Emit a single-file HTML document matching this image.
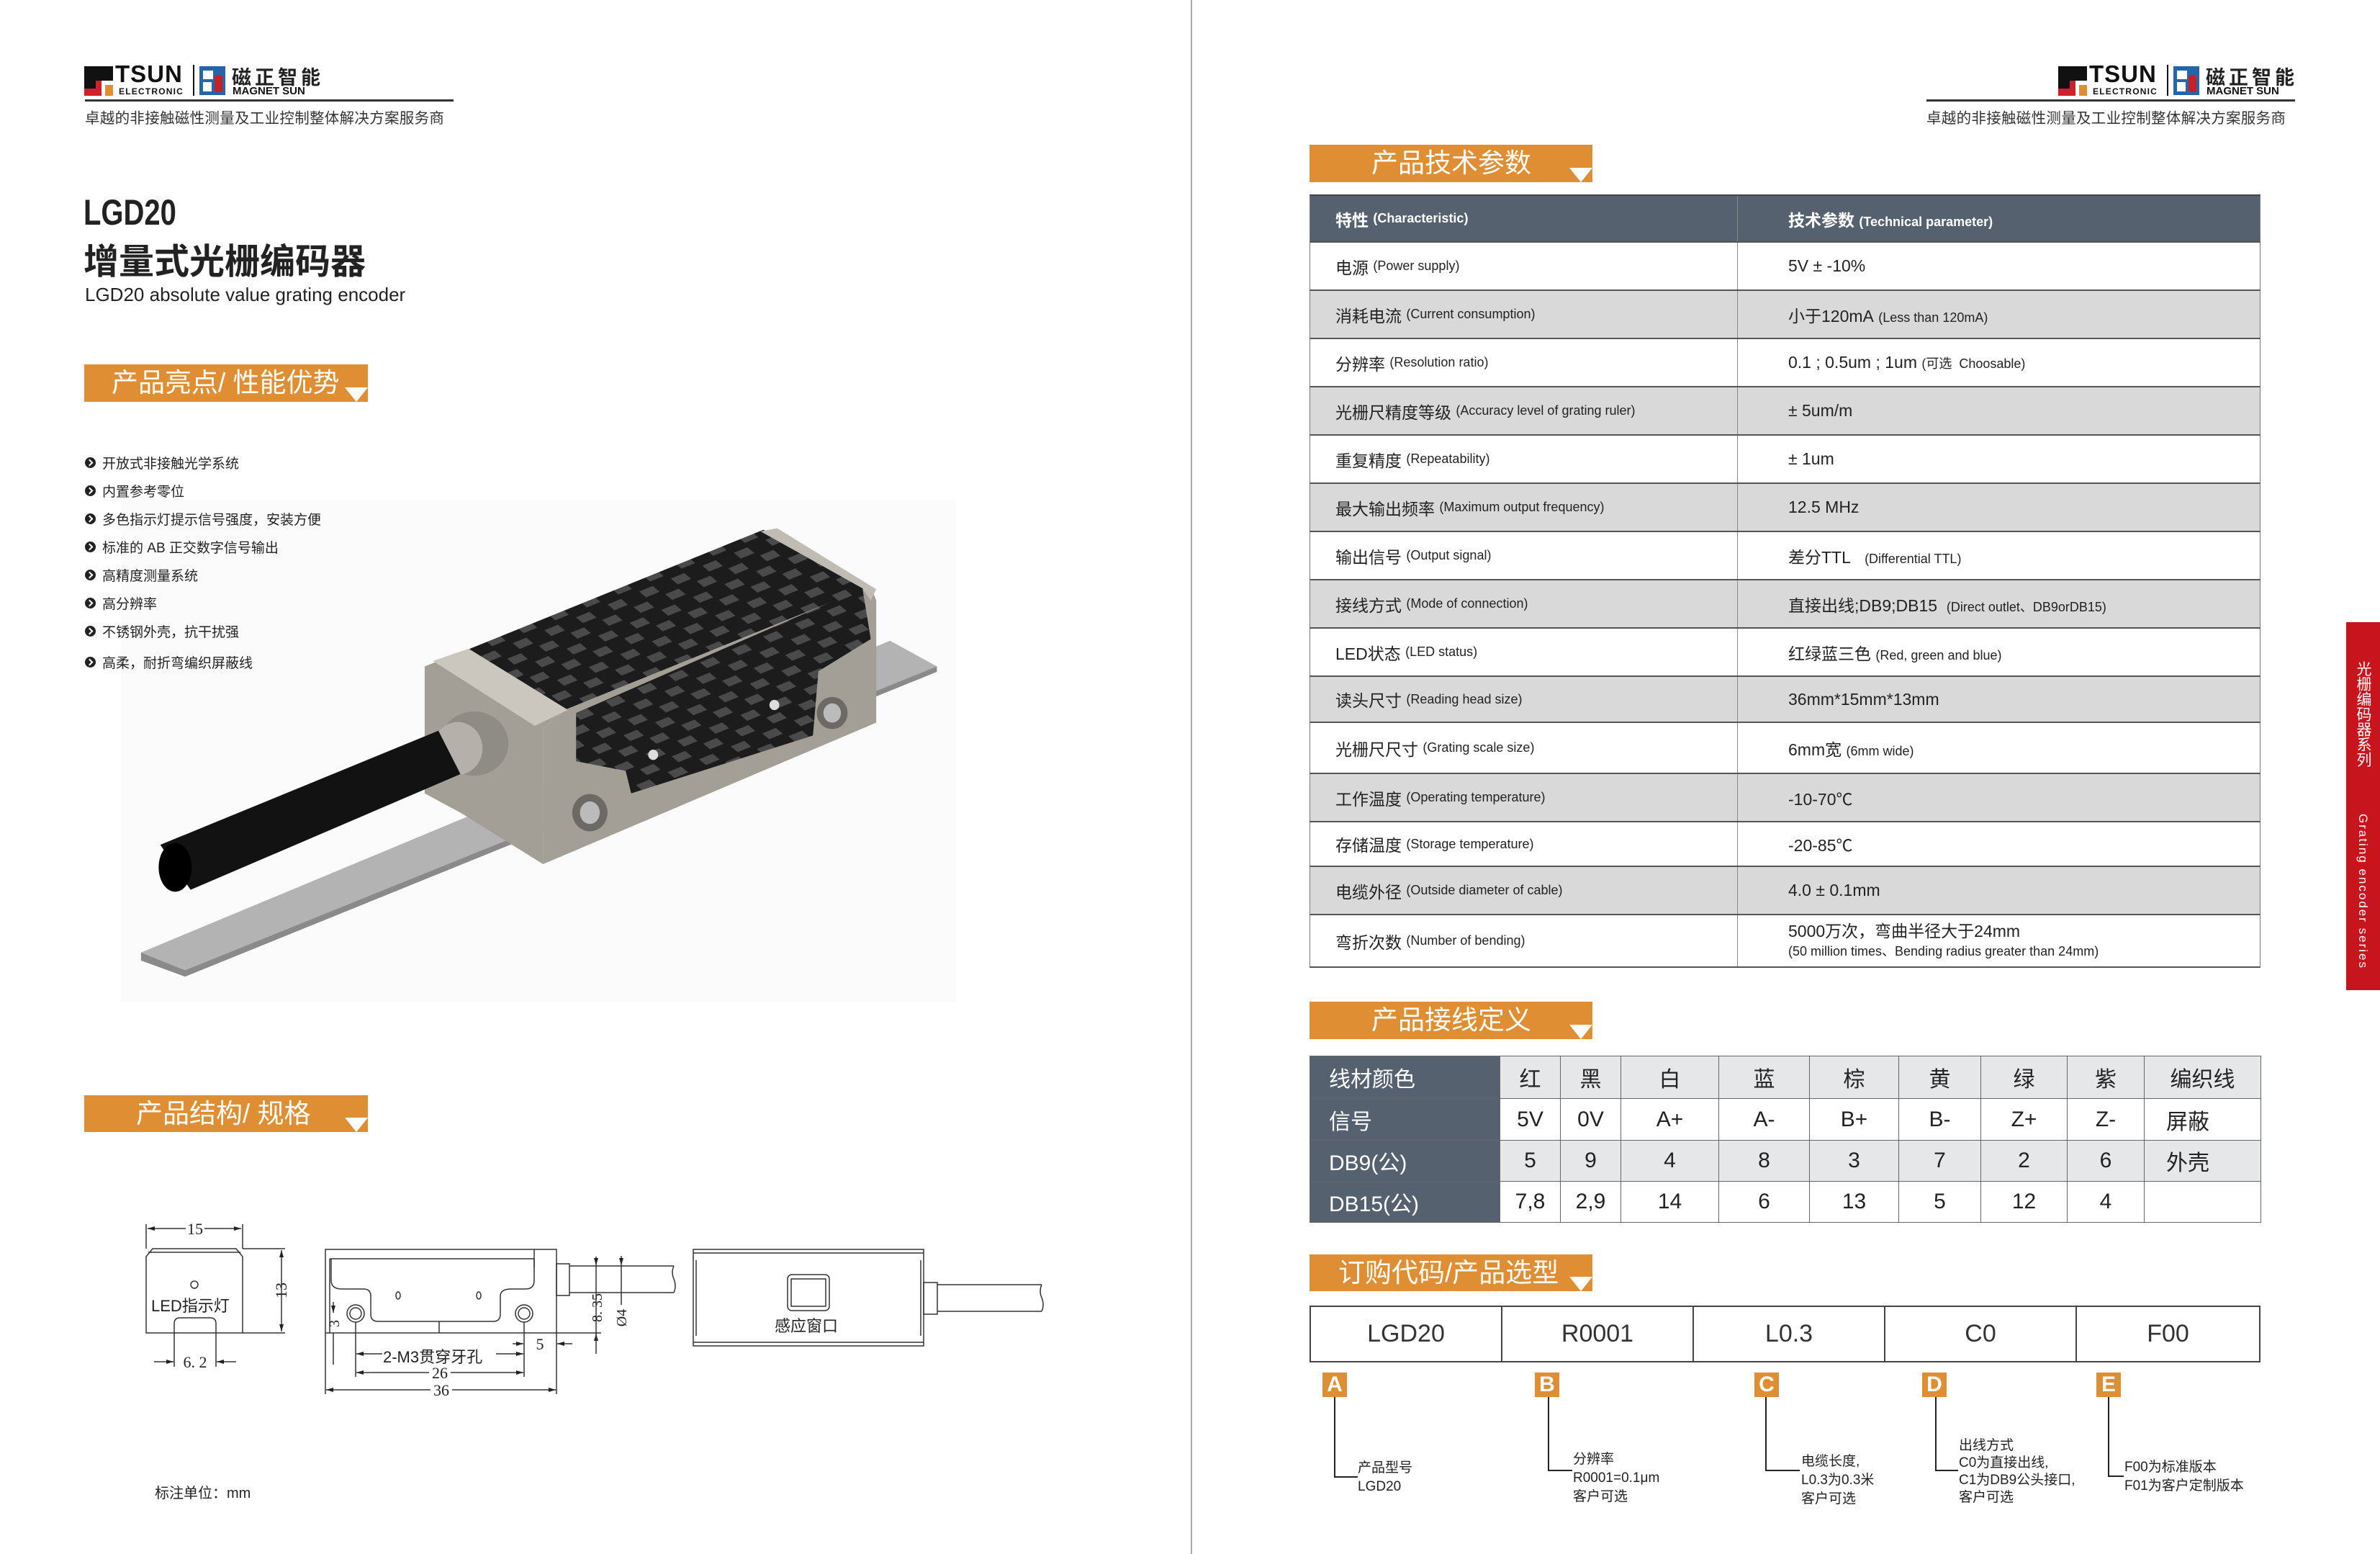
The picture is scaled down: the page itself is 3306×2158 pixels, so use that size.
<!DOCTYPE html>
<html><head><meta charset="utf-8">
<style>
*{margin:0;padding:0}
body{width:3306px;height:2158px;position:relative;background:#fff;overflow:hidden;font-family:"Liberation Sans","Noto Sans CJK SC",sans-serif;color:#222}
.abs{position:absolute;white-space:nowrap}
.bar{position:absolute;background:#e08e33;color:#fff;font-size:37px;height:52px;line-height:52px}
.bar .tri{position:absolute;right:0;bottom:0;width:0;height:0;border-left:16px solid transparent;border-right:16px solid transparent;border-top:20px solid #fff}
.bl{position:absolute;left:118px;font-size:19px;color:#222;display:flex;align-items:center}
.bl i{display:inline-block;width:15px;height:15px;border-radius:50%;background:#222;margin-right:9px;position:relative}
.bl i:after{content:"";position:absolute;left:3px;top:4px;width:5px;height:5px;border-right:2px solid #fff;border-bottom:2px solid #fff;transform:rotate(-45deg)}
.r{position:absolute;left:1819px;width:1321px;display:flex;align-items:center;border-bottom:2px solid #555;border-left:1px solid #777;border-right:1px solid #777;box-sizing:border-box;font-size:23px;color:#222}
.r .a{width:594px;padding-left:35px;box-sizing:border-box;border-right:1px solid #888;height:100%;display:flex;align-items:center}
.r .b{padding-left:70px}
.e{font-size:18px}
.g{background:#d9d9d9}
.hd{background:#566170;color:#fff;font-weight:bold}
table{border-collapse:collapse;position:absolute;table-layout:fixed}
.wt td{border:1px solid #666;text-align:center;font-size:30px;color:#222;padding:0}
.wt td.l{background:#566170;color:#fff;text-align:left;padding-left:26px}
.wt tr.gr td{background:#e6e7e9}
.wt tr.gr td.l{background:#566170}
.ct td{border:2px solid #444;text-align:center;font-size:34px;color:#333;height:75px}
.bd{position:absolute;width:34px;height:34px;background:#e08e33;color:#fff;font-weight:bold;font-size:30px;text-align:center;line-height:34px}
.ct2{position:absolute;font-size:19px;line-height:26px;color:#222}
</style></head><body>

<!-- PRODUCT IMAGE (drawn first so text stays on top) -->
<svg class="abs" style="left:0;top:0" width="3306" height="2158">
<defs>
<pattern id="cf" patternUnits="userSpaceOnUse" width="70" height="70" patternTransform="rotate(-35)">
<rect width="70" height="70" fill="#1c1c1c"/>
<rect x="4" y="6" width="30" height="22" fill="#4a4a4a"/>
<rect x="38" y="40" width="30" height="22" fill="#4a4a4a"/>
</pattern>
</defs>
<rect x="168" y="695" width="1160" height="696" fill="#fbfbfb"/>
<g transform="translate(150,700) scale(0.765,0.4464)">
<polygon points="60,1395 1420,425 1505,505 140,1450" fill="#b3b3b3"/>
<polygon points="140,1450 1505,505 1505,522 140,1470 60,1420 60,1395" fill="#8a8a8a"/>
<polygon points="650,455 1190,80 1385,255 830,640" fill="url(#cf)"/>
<polygon points="830,640 1385,255 1395,300 1395,680 790,1120 790,700" fill="#a39f96"/>
<polygon points="850,650 1370,262 1385,420 1290,520 1280,720 950,900 940,830 850,800" fill="url(#cf)"/>
<polygon points="1185,85 1215,75 1395,265 1385,300 1370,262" fill="#c0bcb4"/>
<polygon points="575,505 650,455 830,640 790,700 790,1120 640,960 575,900" fill="#a39f96"/>
<polygon points="590,488 655,450 835,640 775,690" fill="#cbc7bf"/>
<ellipse cx="875" cy="960" rx="32" ry="58" fill="#6d6a65"/>
<ellipse cx="875" cy="960" rx="18" ry="35" fill="#bbb"/>
<ellipse cx="1315" cy="650" rx="28" ry="50" fill="#6d6a65"/>
<ellipse cx="1315" cy="650" rx="16" ry="30" fill="#bbb"/>
<ellipse cx="990" cy="780" rx="9" ry="16" fill="#ddd"/>
<ellipse cx="1210" cy="625" rx="9" ry="16" fill="#ddd"/>
<ellipse cx="665" cy="745" rx="62" ry="100" fill="#8f8b85"/>
<ellipse cx="635" cy="760" rx="45" ry="82" fill="#b5b1aa"/>
<polygon points="600,705 640,840 150,1200 95,1060" fill="#121212"/>
<ellipse cx="122" cy="1130" rx="30" ry="76" fill="#000"/>
</g>
</svg>

<!-- page divider -->
<div class="abs" style="left:1654px;top:0;width:2px;height:2158px;background:#aaa"></div>

<!-- LEFT LOGO -->
<div class="abs" style="left:117px;top:92px;width:40px;height:20px;background:#111"></div>
<div class="abs" style="left:117px;top:92px;width:20px;height:31px;background:#111"></div>
<div class="abs" style="left:117px;top:123px;width:16px;height:10px;background:#d0202a"></div>
<div class="abs" style="left:133px;top:112px;width:8px;height:21px;background:#d0202a"></div>
<div class="abs" style="left:146px;top:118px;width:11px;height:15px;background:#e08e33"></div>
<div class="abs" style="left:160px;top:84px;font-size:33px;font-weight:bold;letter-spacing:1px;color:#111">TSUN</div>
<div class="abs" style="left:165px;top:120px;font-size:12px;font-weight:bold;letter-spacing:1.2px;color:#111">ELECTRONIC</div>
<div class="abs" style="left:268px;top:90px;width:2px;height:43px;background:#111"></div>
<div class="abs" style="left:277px;top:92px;width:36px;height:40px;background:#2566a8"></div>
<div class="abs" style="left:282px;top:98px;width:14px;height:12px;background:#fff"></div>
<div class="abs" style="left:298px;top:104px;width:11px;height:24px;background:#c8202a;border-radius:3px"></div>
<div class="abs" style="left:282px;top:114px;width:12px;height:13px;background:#fff"></div>
<div class="abs" style="left:322px;top:86px;font-size:27px;font-weight:bold;letter-spacing:5px;color:#222">磁正智能</div>
<div class="abs" style="left:323px;top:118px;font-size:15px;font-weight:bold;color:#111">MAGNET SUN</div>
<div class="abs" style="left:118px;top:138px;width:512px;height:3px;background:#333"></div>
<div class="abs" style="left:118px;top:147px;font-size:20.5px;letter-spacing:0.3px;color:#333">卓越的非接触磁性测量及工业控制整体解决方案服务商</div>

<!-- RIGHT LOGO -->
<div class="abs" style="left:2859px;top:92px;width:40px;height:20px;background:#111"></div>
<div class="abs" style="left:2859px;top:92px;width:20px;height:31px;background:#111"></div>
<div class="abs" style="left:2859px;top:123px;width:16px;height:10px;background:#d0202a"></div>
<div class="abs" style="left:2875px;top:112px;width:8px;height:21px;background:#d0202a"></div>
<div class="abs" style="left:2888px;top:118px;width:11px;height:15px;background:#e08e33"></div>
<div class="abs" style="left:2902px;top:84px;font-size:33px;font-weight:bold;letter-spacing:1px;color:#111">TSUN</div>
<div class="abs" style="left:2907px;top:120px;font-size:12px;font-weight:bold;letter-spacing:1.2px;color:#111">ELECTRONIC</div>
<div class="abs" style="left:3010px;top:90px;width:2px;height:43px;background:#111"></div>
<div class="abs" style="left:3019px;top:92px;width:36px;height:40px;background:#2566a8"></div>
<div class="abs" style="left:3024px;top:98px;width:14px;height:12px;background:#fff"></div>
<div class="abs" style="left:3040px;top:104px;width:11px;height:24px;background:#c8202a;border-radius:3px"></div>
<div class="abs" style="left:3024px;top:114px;width:12px;height:13px;background:#fff"></div>
<div class="abs" style="left:3064px;top:86px;font-size:27px;font-weight:bold;letter-spacing:5px;color:#222">磁正智能</div>
<div class="abs" style="left:3065px;top:118px;font-size:15px;font-weight:bold;color:#111">MAGNET SUN</div>
<div class="abs" style="left:2676px;top:138px;width:512px;height:3px;background:#333"></div>
<div class="abs" style="left:2676px;top:147px;font-size:20.5px;letter-spacing:0.3px;color:#333">卓越的非接触磁性测量及工业控制整体解决方案服务商</div>

<!-- TITLE -->
<div class="abs" style="left:116px;top:266px;font-size:50px;font-weight:bold;color:#222;transform:scaleX(0.8);transform-origin:left">LGD20</div>
<div class="abs" style="left:116px;top:324px;font-size:49px;font-weight:bold;color:#222">增量式光栅编码器</div>
<div class="abs" style="left:118px;top:394px;font-size:26px;color:#222">LGD20 absolute value grating encoder</div>

<div class="bar" style="left:117px;top:506px;width:394px"><span style="margin-left:38px">产品亮点/ 性能优势</span><div class="tri"></div></div>

<div class="bl" style="top:629px"><i></i>开放式非接触光学系统</div>
<div class="bl" style="top:668px"><i></i>内置参考零位</div>
<div class="bl" style="top:707px"><i></i>多色指示灯提示信号强度，安装方便</div>
<div class="bl" style="top:746px"><i></i>标准的 AB 正交数字信号输出</div>
<div class="bl" style="top:785px"><i></i>高精度测量系统</div>
<div class="bl" style="top:824px"><i></i>高分辨率</div>
<div class="bl" style="top:863px"><i></i>不锈钢外壳，抗干扰强</div>
<div class="bl" style="top:906px"><i></i>高柔，耐折弯编织屏蔽线</div>

<div class="bar" style="left:117px;top:1521px;width:394px;height:51px;line-height:51px"><span style="margin-left:72px">产品结构/ 规格</span><div class="tri"></div></div>

<!-- DRAWINGS -->
<svg class="abs" style="left:0;top:0" width="1660" height="2158" font-family="Liberation Serif, serif" font-size="22">
<defs>
<marker id="ar" viewBox="0 0 10 6" refX="10" refY="3" markerWidth="10" markerHeight="6" orient="auto-start-reverse" markerUnits="userSpaceOnUse"><path d="M0,0 L10,3 L0,6 Z" fill="#222"/></marker>
</defs>
<g stroke="#333" stroke-width="1.5" fill="none">
<path d="M203,1851 L203,1745 L212,1734 L328,1734 L337,1745 L337,1851 Z"/>
<line x1="206" y1="1739" x2="334" y2="1739"/>
<path d="M242,1851 L242,1838 Q242,1830 250,1830 L292,1830 Q300,1830 300,1838 L300,1851"/>
<circle cx="270" cy="1784" r="5"/>
<line x1="203" y1="1700" x2="203" y2="1734"/><line x1="337" y1="1700" x2="337" y2="1734"/>
<line x1="205" y1="1706" x2="335" y2="1706" marker-start="url(#ar)" marker-end="url(#ar)"/>
<line x1="337" y1="1734" x2="396" y2="1734"/><line x1="337" y1="1851" x2="396" y2="1851"/>
<line x1="391" y1="1736" x2="391" y2="1849" marker-start="url(#ar)" marker-end="url(#ar)"/>
<line x1="242" y1="1851" x2="242" y2="1898"/><line x1="300" y1="1851" x2="300" y2="1898"/>
<line x1="214" y1="1891" x2="241" y2="1891" marker-end="url(#ar)"/>
<line x1="328" y1="1891" x2="301" y2="1891" marker-end="url(#ar)"/>
<rect x="452" y="1735" width="321" height="116"/>
<line x1="458" y1="1748" x2="742" y2="1748"/>
<line x1="742" y1="1735" x2="742" y2="1760"/>
<line x1="458" y1="1748" x2="458" y2="1851"/>
<path d="M460,1748 L460,1778 Q460,1790 475,1790 L505,1790 Q515,1790 515,1800 L515,1825 Q515,1835 525,1835 L685,1835 Q695,1835 695,1825 L695,1800 Q695,1790 710,1790 L730,1790 Q742,1790 742,1778 L742,1748"/>
<circle cx="494" cy="1824" r="12"/><circle cx="494" cy="1824" r="8"/>
<circle cx="728" cy="1824" r="12"/><circle cx="728" cy="1824" r="8"/>
<ellipse cx="553" cy="1799" rx="3" ry="5"/><ellipse cx="665" cy="1799" rx="3" ry="5"/>
<line x1="610" y1="1835" x2="610" y2="1851"/>
<rect x="773" y="1755" width="18" height="44"/>
<line x1="791" y1="1758" x2="936" y2="1758"/><line x1="791" y1="1795" x2="936" y2="1795"/>
<path d="M936,1758 Q932,1767 936,1776 Q940,1786 936,1795"/>
<line x1="773" y1="1851" x2="835" y2="1851"/>
<line x1="828" y1="1745" x2="828" y2="1757" marker-end="url(#ar)"/>
<line x1="828" y1="1860" x2="828" y2="1852" marker-end="url(#ar)"/>
<line x1="828" y1="1757" x2="828" y2="1880"/>
<line x1="863" y1="1744" x2="863" y2="1757" marker-end="url(#ar)"/>
<line x1="863" y1="1757" x2="863" y2="1812"/>
<line x1="463" y1="1808" x2="463" y2="1823" marker-end="url(#ar)"/>
<line x1="463" y1="1851" x2="463" y2="1895"/>
<line x1="494" y1="1836" x2="494" y2="1912"/><line x1="728" y1="1836" x2="728" y2="1912"/>
<line x1="452" y1="1851" x2="452" y2="1936"/><line x1="773" y1="1851" x2="773" y2="1936"/>
<line x1="712" y1="1866" x2="727" y2="1866" marker-end="url(#ar)"/>
<line x1="795" y1="1866" x2="774" y2="1866" marker-end="url(#ar)"/>
<line x1="531" y1="1880" x2="495" y2="1880" marker-end="url(#ar)"/>
<line x1="689" y1="1880" x2="727" y2="1880" marker-end="url(#ar)"/>
<line x1="495" y1="1906" x2="596" y2="1906" marker-start="url(#ar)"/><line x1="626" y1="1906" x2="727" y2="1906" marker-end="url(#ar)"/>
<line x1="453" y1="1930" x2="598" y2="1930" marker-start="url(#ar)"/><line x1="628" y1="1930" x2="772" y2="1930" marker-end="url(#ar)"/>
<rect x="963" y="1735" width="320" height="134"/>
<line x1="963" y1="1740" x2="1283" y2="1740"/><line x1="963" y1="1864" x2="1283" y2="1864"/>
<line x1="967" y1="1750" x2="967" y2="1855"/><line x1="1279" y1="1750" x2="1279" y2="1855"/>
<rect x="1094" y="1770" width="58" height="50" rx="6"/>
<rect x="1099" y="1776" width="48" height="38"/>
<rect x="1283" y="1781" width="19" height="44"/>
<line x1="1302" y1="1784" x2="1447" y2="1784"/><line x1="1302" y1="1821" x2="1447" y2="1821"/>
<path d="M1447,1784 Q1443,1793 1447,1802 Q1451,1812 1447,1821"/>
</g>
<g fill="#222" stroke="none">
<rect x="258" y="1694" width="26" height="24" fill="#fff"/>
<text x="271" y="1714" text-anchor="middle">15</text>
<text transform="translate(398,1792) rotate(-90)" text-anchor="middle">13</text>
<text x="271" y="1899" text-anchor="middle">6. 2</text>
<text transform="translate(836,1816) rotate(-90)" text-anchor="middle" font-size="20">8. 35</text>
<text transform="translate(870,1830) rotate(-90)" text-anchor="middle" font-size="20">Ø4</text>
<text transform="translate(471,1838) rotate(-90)" text-anchor="middle" font-size="20">3</text>
<text x="750" y="1874" text-anchor="middle">5</text>
<text x="611" y="1914" text-anchor="middle">26</text>
<text x="613" y="1938" text-anchor="middle">36</text>
</g>
</svg>
<div class="abs" style="left:210px;top:1796px;font-size:22px;color:#222">LED指示灯</div>
<div class="abs" style="left:532px;top:1867px;font-size:22px;color:#222;background:#fff">2-M3贯穿牙孔</div>
<div class="abs" style="left:1076px;top:1824px;font-size:22px;color:#222">感应窗口</div>
<div class="abs" style="left:215px;top:2057px;font-size:20px;color:#222">标注单位：mm</div>

<!-- RIGHT PAGE -->
<div class="bar" style="left:1819px;top:201px;width:393px"><span style="margin-left:86px">产品技术参数</span><div class="tri"></div></div>

<div class="r hd" style="top:270px;height:67px;border-top:2px solid #444"><div class="a">特性&nbsp;<span class="e">(Characteristic)</span></div><div class="b">技术参数&nbsp;<span class="e">(Technical parameter)</span></div></div>
<div class="r" style="top:337px;height:67px"><div class="a">电源&nbsp;<span class="e">(Power supply)</span></div><div class="b">5V ± -10%</div></div>
<div class="r g" style="top:404px;height:67px"><div class="a">消耗电流&nbsp;<span class="e">(Current consumption)</span></div><div class="b">小于120mA&nbsp;<span class="e">(Less than 120mA)</span></div></div>
<div class="r" style="top:471px;height:67px"><div class="a">分辨率&nbsp;<span class="e">(Resolution ratio)</span></div><div class="b">0.1 ; 0.5um ; 1um <span class="e">(可选&nbsp; Choosable)</span></div></div>
<div class="r g" style="top:538px;height:67px"><div class="a">光栅尺精度等级&nbsp;<span class="e">(Accuracy level of grating ruler)</span></div><div class="b">± 5um/m</div></div>
<div class="r" style="top:605px;height:67px"><div class="a">重复精度&nbsp;<span class="e">(Repeatability)</span></div><div class="b">± 1um</div></div>
<div class="r g" style="top:672px;height:67px"><div class="a">最大输出频率&nbsp;<span class="e">(Maximum output frequency)</span></div><div class="b">12.5 MHz</div></div>
<div class="r" style="top:739px;height:67px"><div class="a">输出信号&nbsp;<span class="e">(Output signal)</span></div><div class="b">差分TTL&nbsp;&nbsp;&nbsp;<span class="e">(Differential TTL)</span></div></div>
<div class="r g" style="top:806px;height:67px"><div class="a">接线方式&nbsp;<span class="e">(Mode of connection)</span></div><div class="b">直接出线;DB9;DB15&nbsp;&nbsp;<span class="e">(Direct outlet、DB9orDB15)</span></div></div>
<div class="r" style="top:873px;height:67px"><div class="a">LED状态&nbsp;<span class="e">(LED status)</span></div><div class="b">红绿蓝三色 <span class="e">(Red, green and blue)</span></div></div>
<div class="r g" style="top:940px;height:64px"><div class="a">读头尺寸&nbsp;<span class="e">(Reading head size)</span></div><div class="b">36mm*15mm*13mm</div></div>
<div class="r" style="top:1004px;height:71px"><div class="a">光栅尺尺寸&nbsp;<span class="e">(Grating scale size)</span></div><div class="b">6mm宽 <span class="e">(6mm wide)</span></div></div>
<div class="r g" style="top:1075px;height:67px"><div class="a">工作温度&nbsp;<span class="e">(Operating temperature)</span></div><div class="b">-10-70℃</div></div>
<div class="r" style="top:1142px;height:62px"><div class="a">存储温度&nbsp;<span class="e">(Storage temperature)</span></div><div class="b">-20-85℃</div></div>
<div class="r g" style="top:1204px;height:67px"><div class="a">电缆外径&nbsp;<span class="e">(Outside diameter of cable)</span></div><div class="b">4.0 ± 0.1mm</div></div>
<div class="r" style="top:1271px;height:73px"><div class="a">弯折次数&nbsp;<span class="e">(Number of bending)</span></div><div class="b" style="line-height:26px">5000万次，弯曲半径大于24mm<br><span class="e">(50 million times、Bending radius greater than 24mm)</span></div></div>

<div class="abs" style="left:3259px;top:864px;width:47px;height:511px;background:#c8151d"></div>
<div class="abs" style="left:3272px;top:918px;font-size:21px;color:#fff;writing-mode:vertical-rl;line-height:21px">光栅编码器系列</div>
<div class="abs" style="left:3274px;top:1130px;font-size:17px;color:#fff;writing-mode:vertical-rl;letter-spacing:2px;line-height:17px">Grating encoder series</div>

<div class="bar" style="left:1819px;top:1391px;width:393px"><span style="margin-left:86px">产品接线定义</span><div class="tri"></div></div>

<table class="wt" style="left:1819px;top:1466px;width:1321px">
<colgroup><col style="width:264px"><col style="width:84px"><col style="width:84px"><col style="width:136px"><col style="width:126px"><col style="width:124px"><col style="width:114px"><col style="width:120px"><col style="width:107px"><col style="width:162px"></colgroup>
<tr class="gr" style="height:59px"><td class="l">线材颜色</td><td>红</td><td>黑</td><td>白</td><td>蓝</td><td>棕</td><td>黄</td><td>绿</td><td>紫</td><td>编织线</td></tr>
<tr style="height:58px"><td class="l">信号</td><td>5V</td><td>0V</td><td>A+</td><td>A-</td><td>B+</td><td>B-</td><td>Z+</td><td>Z-</td><td style="text-align:left;padding-left:30px">屏蔽</td></tr>
<tr class="gr" style="height:57px"><td class="l">DB9(公)</td><td>5</td><td>9</td><td>4</td><td>8</td><td>3</td><td>7</td><td>2</td><td>6</td><td style="text-align:left;padding-left:30px">外壳</td></tr>
<tr style="height:57px"><td class="l">DB15(公)</td><td>7,8</td><td>2,9</td><td>14</td><td>6</td><td>13</td><td>5</td><td>12</td><td>4</td><td></td></tr>
</table>

<div class="bar" style="left:1819px;top:1742px;width:393px;height:51px;line-height:51px"><span style="margin-left:40px">订购代码/产品选型</span><div class="tri"></div></div>

<table class="ct" style="left:1819px;top:1813px;width:1321px">
<tr><td style="width:264px">LGD20</td><td style="width:264px">R0001</td><td style="width:264px">L0.3</td><td style="width:264px">C0</td><td>F00</td></tr>
</table>

<div class="bd" style="left:1837px;top:1906px">A</div>
<div class="bd" style="left:2132px;top:1906px">B</div>
<div class="bd" style="left:2437px;top:1906px">C</div>
<div class="bd" style="left:2670px;top:1906px">D</div>
<div class="bd" style="left:2912px;top:1906px">E</div>
<svg class="abs" style="left:0;top:0" width="3306" height="2158">
<g stroke="#222" stroke-width="2" fill="none">
<path d="M1854,1940 L1854,2051 L1886,2051"/>
<path d="M2151,1940 L2151,2042 L2184,2042"/>
<path d="M2453,1940 L2453,2042 L2500,2042"/>
<path d="M2689,1940 L2689,2042 L2720,2042"/>
<path d="M2929,1940 L2929,2050 L2950,2050"/>
</g>
</svg>
<div class="ct2" style="left:1886px;top:2026px">产品型号<br>LGD20</div>
<div class="ct2" style="left:2185px;top:2014px">分辨率<br>R0001=0.1μm<br>客户可选</div>
<div class="ct2" style="left:2502px;top:2017px">电缆长度,<br>L0.3为0.3米<br>客户可选</div>
<div class="ct2" style="left:2721px;top:1996px;line-height:24px">出线方式<br>C0为直接出线,<br>C1为DB9公头接口,<br>客户可选</div>
<div class="ct2" style="left:2951px;top:2025px">F00为标准版本<br>F01为客户定制版本</div>

</body></html>
